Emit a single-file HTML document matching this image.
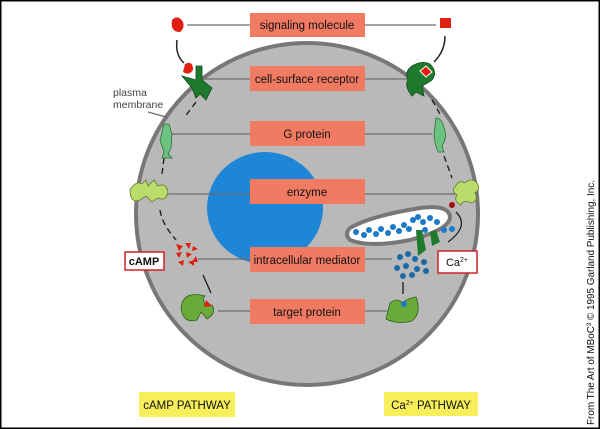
<!DOCTYPE html>
<html><head><meta charset="utf-8"><style>
html,body{margin:0;padding:0;background:#fff}
svg{display:block}
text{font-family:"Liberation Sans",sans-serif}
</style></head><body>
<svg width="600" height="429" viewBox="0 0 600 429">
<rect x="0.5" y="0.5" width="599" height="428" fill="#fff" stroke="#000" stroke-width="2"/>
<circle cx="307" cy="214" r="171" fill="#b9b9b9" stroke="#777" stroke-width="4"/>
<ellipse cx="265" cy="208" rx="58" ry="56" fill="#1e86d6"/>
<g stroke="#6e6e6e" stroke-width="1.2">
<line x1="187" y1="25" x2="250" y2="25"/><line x1="365" y1="25" x2="436" y2="25"/>
<line x1="200" y1="79" x2="250" y2="79"/><line x1="365" y1="79" x2="410" y2="79"/>
<line x1="172" y1="134" x2="250" y2="134"/><line x1="365" y1="134" x2="432" y2="134"/>
<line x1="165" y1="194" x2="250" y2="194"/><line x1="365" y1="194" x2="455" y2="194"/>
<line x1="198" y1="259" x2="250" y2="259"/><line x1="365" y1="259" x2="392" y2="259"/>
<line x1="218" y1="311" x2="250" y2="311"/><line x1="365" y1="311" x2="392" y2="311"/>
<line x1="148" y1="112" x2="166" y2="117"/>
</g>
<g fill="#f07a62">
<rect x="250" y="13" width="115" height="24"/><rect x="250" y="66" width="115" height="25"/>
<rect x="250" y="121" width="115" height="25"/><rect x="250" y="179" width="115" height="25"/>
<rect x="250" y="247" width="115" height="25"/><rect x="250" y="299" width="115" height="25"/>
</g>
<g font-size="11.5" fill="#111" text-anchor="middle">
<text x="307" y="29">signaling molecule</text>
<text x="307" y="83">cell-surface receptor</text>
<text x="307" y="138">G protein</text>
<text x="307" y="196">enzyme</text>
<text x="307" y="264">intracellular mediator</text>
<text x="307" y="316">target protein</text>
</g>
<text x="113" y="96" font-size="10.5" fill="#444"><tspan x="113">plasma</tspan><tspan x="113" dy="12">membrane</tspan></text>
<g fill="none" stroke="#222" stroke-width="1.4" stroke-dasharray="6 4">
<path d="M196 102 l-12 16"/><path d="M164 158 l-2 16"/><path d="M160 210 q2 14 16 30"/>
<path d="M432 100 l8 14"/><path d="M444 156 l8 22"/>
</g>
<path d="M172 20 q6 -6 11 2 q2 6 -3 10 q-10 0 -8 -12z" fill="#e02010"/>
<path d="M177 40 q-2 15 7 23" fill="none" stroke="#222" stroke-width="1.5"/>
<path d="M185 64 q8 -4 8 6 q-4 6 -10 2z" fill="#e02010"/>
<path d="M182 76 l14 4 l0 -14 l6 0 l0 14 l10 8 l-6 12 l-6 -6 l-4 4 l-4 -10 z" fill="#1f7a2e" stroke="#0e4a18" stroke-width="0.8"/>
<path d="M160 140 l4 -16 l5 0 l3 10 l-1 14 l-3 6 l4 4 l-10 0 l2 -6 z" fill="#6cc280" stroke="#2f6d3b" stroke-width="0.8"/>
<path d="M130 190 q6 -10 12 -6 l4 -4 l2 6 l6 -6 l4 6 q8 -4 10 6 q-2 10 -10 6 l-6 4 l-6 -6 l-6 4 q-10 4 -10 -10z" fill="#b9dc6a" stroke="#5f7b2a" stroke-width="0.8"/>
<g fill="#e02010">
<path d="M176 244 l7 2 l-4 5z"/><path d="M185 243 l6 0 l-2 6z"/><path d="M193 246 l5 3 l-6 2z"/><path d="M176 253 l6 -1 l-3 6z"/><path d="M186 252 l6 2 l-5 4z"/><path d="M178 262 l6 -2 l-1 6z"/><path d="M188 262 l6 -2 l0 6z"/><path d="M196 256 l-4 6 l6 0z"/>
</g>
<rect x="125" y="252" width="39" height="18" fill="#fff" stroke="#d0202a" stroke-width="1.5"/>
<text x="144" y="265" font-size="11" font-weight="bold" text-anchor="middle" fill="#111">cAMP</text>
<path d="M203 275 l8 18" stroke="#222" stroke-width="1.4"/>
<path d="M205 296 q-22 -6 -24 12 q2 16 16 12 l4 -8 l6 7 q10 -6 5 -14 l-7 1 l-2 -8z" fill="#6aaa3a" stroke="#2f5f1a" stroke-width="0.8"/>
<path d="M206 300 l6 6 l-8 1z" fill="#e02010"/>
<rect x="440" y="18" width="11" height="10" fill="#e02010"/>
<path d="M445 36 q0 15 -11 26" fill="none" stroke="#222" stroke-width="1.5"/>
<path d="M412 66 q10 -6 18 -2 q8 8 2 16 q-6 4 -10 6 l2 10 l-8 -4 l-4 4 q-8 -10 -4 -16 q-4 -8 4 -14z" fill="#1f7a2e" stroke="#0e4a18" stroke-width="0.8"/>
<path d="M420 71 l6 -5 l6 6 l-6 5z" fill="#e02010" stroke="#fff" stroke-width="1"/>
<path d="M436 118 q6 0 8 10 q4 8 -2 18 l2 6 l-6 0 q-4 -10 -4 -18z" fill="#6cc280" stroke="#2f6d3b" stroke-width="0.8"/>
<path d="M455 187 q4 -8 10 -4 q6 -6 12 0 q4 6 -2 10 q4 8 -4 10 q-8 -4 -10 2 q-8 -4 -4 -10 q-6 -4 -2 -8z" fill="#b9dc6a" stroke="#5f7b2a" stroke-width="0.8"/>
<circle cx="452" cy="205" r="3" fill="#a01010"/>
<path d="M456 212 q14 14 -8 30" fill="none" stroke="#222" stroke-width="1.3"/>
<path d="M350 228 q20 -12 70 -20 q30 -4 30 10 q-2 12 -40 22 q-40 8 -60 0 q-6 -6 0 -12z" fill="#fff" stroke="#777" stroke-width="4"/>
<g fill="#1a7ac8">
<circle cx="356" cy="232" r="3"/><circle cx="364" cy="235" r="3"/><circle cx="369" cy="230" r="3"/><circle cx="376" cy="234" r="3"/><circle cx="381" cy="229" r="3"/><circle cx="388" cy="233" r="3"/><circle cx="393" cy="227" r="3"/><circle cx="399" cy="231" r="3"/><circle cx="404" cy="225" r="3"/><circle cx="409" cy="229" r="3"/><circle cx="413" cy="220" r="3"/><circle cx="418" cy="217" r="3"/><circle cx="423" cy="222" r="3"/><circle cx="430" cy="218" r="3"/><circle cx="437" cy="222" r="3"/><circle cx="444" cy="230" r="3"/><circle cx="452" cy="229" r="3"/><circle cx="425" cy="230" r="3"/>
</g>
<path d="M416 230 l6 0 l4 20 l-8 6z M430 232 l6 -2 l4 12 l-8 4z" fill="#1f7a2e"/>
<g fill="#1a6aa8">
<circle cx="400" cy="257" r="3"/><circle cx="408" cy="254" r="3"/><circle cx="415" cy="259" r="3"/><circle cx="424" cy="262" r="3"/><circle cx="397" cy="268" r="3"/><circle cx="406" cy="266" r="3"/><circle cx="417" cy="269" r="3"/><circle cx="426" cy="271" r="3"/><circle cx="412" cy="275" r="3"/><circle cx="403" cy="276" r="3"/>
</g>
<rect x="438" y="251" width="39" height="22" fill="#fff" stroke="#d0202a" stroke-width="1.5"/>
<text x="457" y="266" font-size="11" text-anchor="middle" fill="#111">Ca<tspan font-size="7" dy="-4">2+</tspan></text>
<path d="M403 282 l0 12" stroke="#222" stroke-width="1.4"/>
<path d="M390 303 q8 -6 12 0 q4 -4 14 -6 q6 16 -4 24 q-14 4 -26 -2z" fill="#6aaa3a" stroke="#2f5f1a" stroke-width="0.8"/>
<circle cx="404" cy="304" r="3" fill="#1a7ac8"/>
<rect x="139" y="392" width="96" height="25" fill="#f6ee5a"/>
<text x="187" y="409" font-size="11.5" text-anchor="middle" fill="#111">cAMP PATHWAY</text>
<rect x="384" y="392" width="94" height="24" fill="#f6ee5a"/>
<text x="431" y="409" font-size="11.5" text-anchor="middle" fill="#111">Ca<tspan font-size="7" dy="-4">2+</tspan><tspan dy="4"> PATHWAY</tspan></text>
<text transform="translate(594,425) rotate(-90)" font-size="10" fill="#111" textLength="245" lengthAdjust="spacingAndGlyphs">From The Art of MBoC³ © 1995 Garland Publishing, Inc.</text>
</svg>
</body></html>
